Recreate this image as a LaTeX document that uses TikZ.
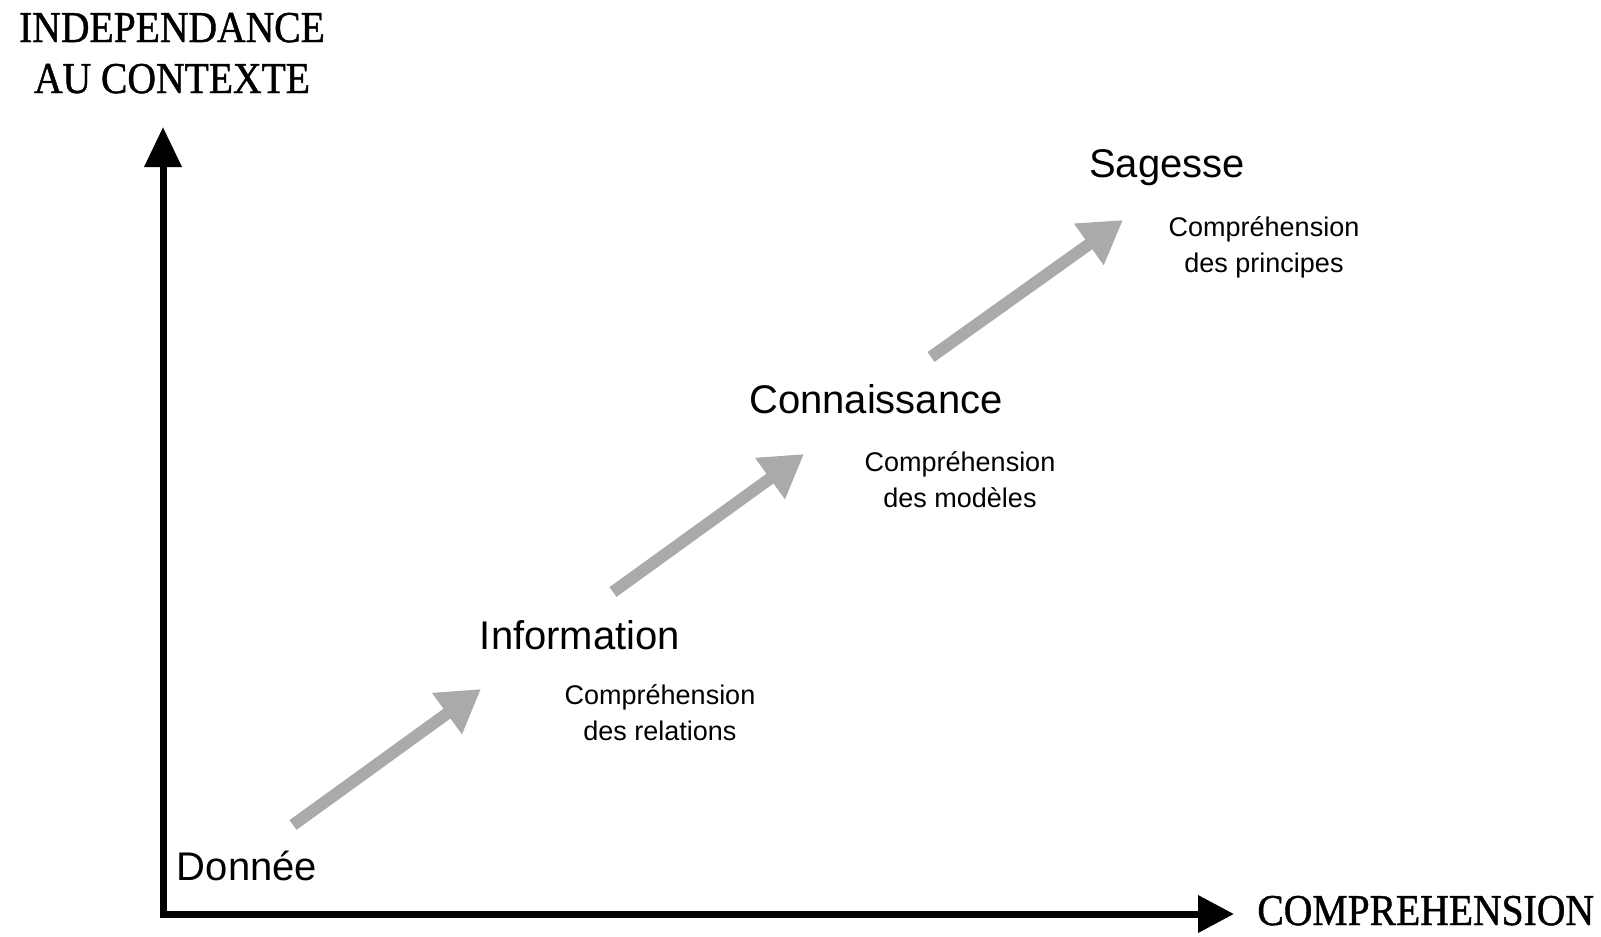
\documentclass[tikz,border=0pt]{standalone}
\usepackage{fontspec}
\setmainfont{Liberation Sans}
\newfontfamily\axisfont[FakeStretch=0.9,FakeBold=1]{Liberation Serif}
\usetikzlibrary{arrows.meta}
\definecolor{stepgray}{RGB}{170,170,170}
\tikzstyle{axis}=[line width=3.5pt,{Triangle[length=20pt,width=18pt]}-{Triangle[length=18pt,width=18pt]}]
\tikzstyle{stage}=[anchor=base,inner sep=0pt,font=\fontsize{20pt}{24pt}\selectfont]
\tikzstyle{note}=[anchor=base,inner sep=0pt,align=center,font=\fontsize{13.5pt}{18pt}\selectfont]
\tikzstyle{axislabel}=[anchor=base,inner sep=0pt,align=center,font=\axisfont\fontsize{22pt}{25.5pt}\selectfont]
\tikzstyle{climb}=[line width=6pt,color=stepgray,-{Triangle[length=21pt,width=24pt]}]

\begin{document}
\begin{tikzpicture}[x=0.5pt,y=-0.5pt]
		\useasboundingbox (0,0) rectangle (1601,937);

		% axes
		\coordinate (origin) at (163,914);
		\coordinate (ytop) at (163,127);
		\coordinate (xend) at (1234,914);
		\draw[axis] (ytop) -- (origin) -- (xend);
		\node[axislabel] (indep) at (172,93) {INDEPENDANCE\\AU CONTEXTE};
		\node[axislabel,anchor=base west] (compr) at (1257,925) {COMPREHENSION};

		% stages
		\node[stage] (donnee) at (247,880) {Donnée};
		\node[stage] (info) at (580,649) {Information};
		\node[stage] (conn) at (876,413) {Connaissance};
		\node[stage] (sag) at (1167,177) {Sagesse};

		% base = last line
		\node[note] (relations) at (660,740) {Compréhension\\des relations};
		\node[note] (modeles) at (960,507) {Compréhension\\des modèles};
		\node[note] (principes) at (1264,272) {Compréhension\\des principes};

		% arrows between stages
		\coordinate (c1a) at (293,825);
		\coordinate (c1b) at (481,689);
		\coordinate (c2a) at (613,592);
		\coordinate (c2b) at (804,454);
		\coordinate (c3a) at (931,357);
		\coordinate (c3b) at (1123,220);
		\draw[climb] (c1a) -- (c1b);
		\draw[climb] (c2a) -- (c2b);
		\draw[climb] (c3a) -- (c3b);
	\end{tikzpicture}
\end{document}
